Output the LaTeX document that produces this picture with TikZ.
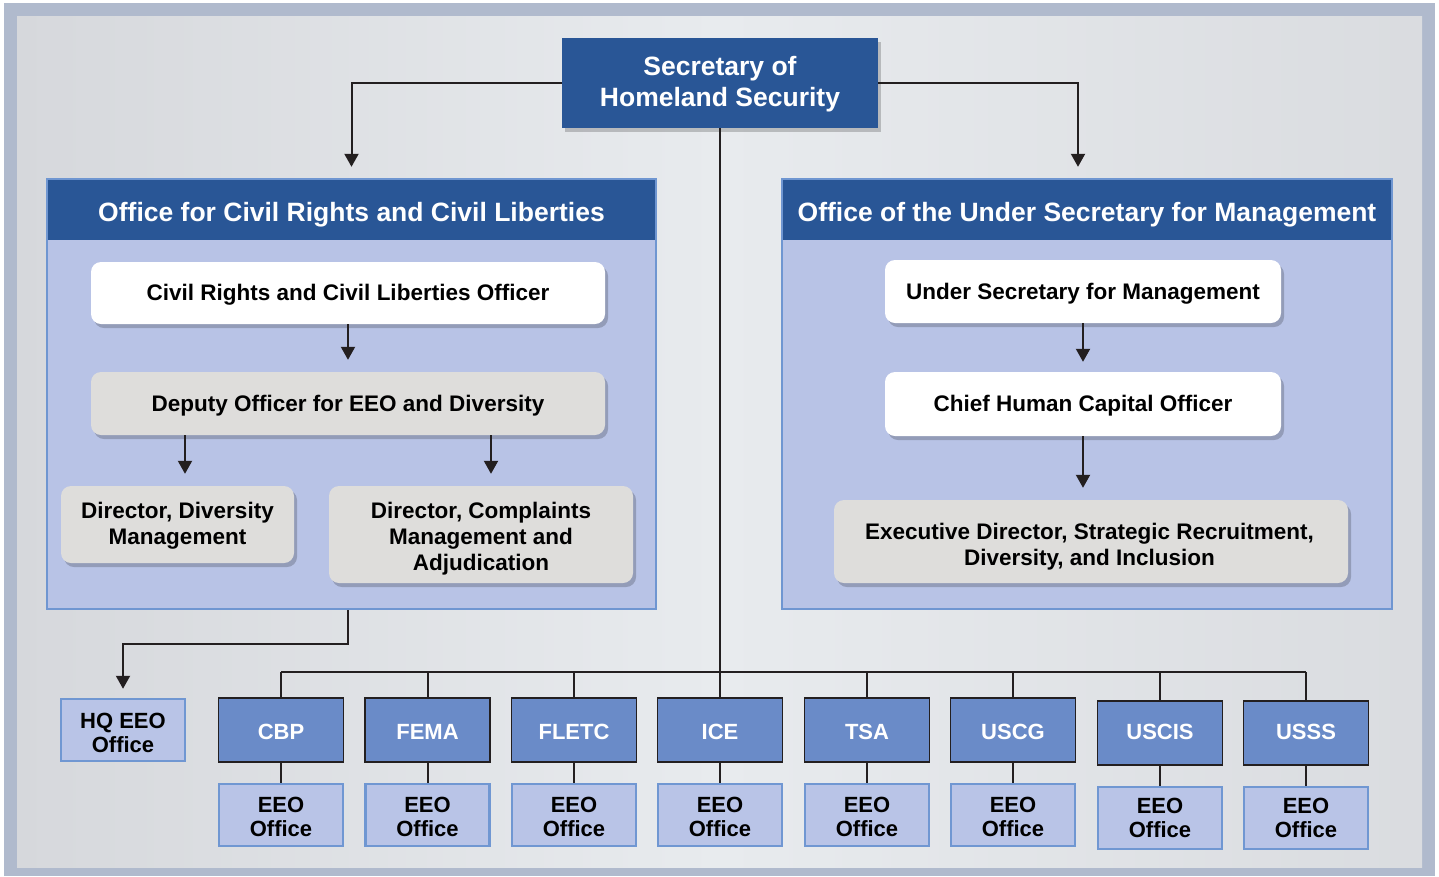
\documentclass[tikz,border=0pt]{standalone}
\usepackage{fontspec}
\setmainfont{Liberation Sans}
\usetikzlibrary{arrows.meta,shadows,calc}
\definecolor{hdrblue}{RGB}{41,86,150}
\definecolor{panelfill}{RGB}{184,195,230}
\definecolor{panelline}{RGB}{111,150,209}
\definecolor{agencyfill}{RGB}{106,139,200}
\definecolor{eeofill}{RGB}{185,196,231}
\definecolor{eeoline}{RGB}{112,151,210}
\definecolor{boxgray}{RGB}{222,221,219}
\definecolor{framecol}{RGB}{176,186,205}
\definecolor{bgA}{RGB}{214,216,220}
\definecolor{bgB}{RGB}{232,235,238}
\definecolor{linecol}{RGB}{35,31,32}
\newcommand\hdrfont{\fontsize{26.5}{31}\selectfont\bfseries}
\newcommand\boxfont{\fontsize{22.5}{26}\selectfont\bfseries}
\newcommand\agfont{\fontsize{22}{24}\selectfont\bfseries}
% lower the text by #1 inside its node, keeping the box size
\newcommand\mytxt[2]{\raisebox{-#1}[\height][\depth]{\begin{tabular}{@{}c@{}}#2\end{tabular}}}
\tikzset{
  hdr/.style={fill=hdrblue, text=white, font=\hdrfont, inner sep=0pt, align=center},
  panelbody/.style={fill=panelfill, draw=panelline, line width=2pt, inner sep=0pt},
  shad/.style={drop shadow={shadow xshift=3pt, shadow yshift=-4pt, opacity=0.2, fill=black}},
  whitebox/.style={rounded corners=10pt, fill=white, font=\boxfont, align=center, inner sep=0pt, shad},
  graybox/.style={rounded corners=10pt, fill=boxgray, font=\boxfont, align=center, inner sep=0pt, shad},
  agency/.style={fill=agencyfill, draw=linecol, line width=1.2pt, text=white, font=\agfont,
    minimum width=125pt, minimum height=64pt, inner sep=0pt},
  eeo/.style={fill=eeofill, draw=eeoline, line width=2.5pt, font=\agfont, align=center,
    minimum width=124pt, minimum height=62pt, inner sep=0pt},
  conn/.style={line width=2pt, draw=linecol},
  arr/.style={conn, -{Triangle[length=13pt,width=14pt]}}
}
\begin{document}
\begin{tikzpicture}[x=1pt,y=-1pt]
\useasboundingbox (0,0) rectangle (1439,876);
\fill[white] (0,0) rectangle (1439,876);
\fill[framecol] (4,3) rectangle (1435,876);
\shade[left color=bgA, right color=bgA!80!bgB, middle color=bgB] (17,16) rectangle (1422,867);

% Secretary
\node[hdr, minimum width=316pt, minimum height=90pt, shad] (sec) at (720,83) {\mytxt{1.5pt}{Secretary of\\Homeland Security}};

% Left panel
\node[panelbody, minimum width=609pt, minimum height=430pt] (crcl) at (351.5,394) {};
\node[hdr, minimum width=607pt, minimum height=60pt] (crclhead) at (351.5,210) {\mytxt{5pt}{Office for Civil Rights and Civil Liberties}};
\node[whitebox, minimum width=514pt, minimum height=62pt] (crclo) at (348,293) {\mytxt{2pt}{Civil Rights and Civil Liberties Officer}};
\node[graybox, minimum width=514pt, minimum height=63pt] (deputy) at (348,403.5) {\mytxt{3pt}{Deputy Officer for EEO and Diversity}};
\node[graybox, minimum width=233pt, minimum height=77pt] (dirdiv) at (177.5,524.5) {\mytxt{2pt}{Director, Diversity\\Management}};
\node[graybox, minimum width=304pt, minimum height=97pt] (dircomp) at (481,534.5) {\mytxt{5pt}{Director, Complaints\\Management and\\Adjudication}};

% Right panel
\node[panelbody, minimum width=610pt, minimum height=430pt] (usm) at (1087,394) {};
\node[hdr, minimum width=608pt, minimum height=60pt] (usmhead) at (1087,210) {\mytxt{5pt}{Office of the Under Secretary for Management}};
\node[whitebox, minimum width=396pt, minimum height=63pt] (usmo) at (1083,291.5) {\mytxt{3pt}{Under Secretary for Management}};
\node[whitebox, minimum width=396pt, minimum height=64pt] (chco) at (1083,404) {\mytxt{2pt}{Chief Human Capital Officer}};
\node[graybox, minimum width=514pt, minimum height=83pt] (exec) at (1091,541.5) {\hspace*{-3pt}\mytxt{6pt}{Executive Director, Strategic Recruitment,\\Diversity, and Inclusion}};

% Top connectors
\draw[arr, shorten >=13pt] (sec.west) -| (crclhead.north);
\draw[arr, shorten >=13pt] (sec.east) -| ([xshift=-9pt]usmhead.north);

% Inner arrows
\draw[arr, shorten >=12pt] (crclo.south) -- (deputy.north);
\draw[arr, shorten >=12pt] ([xshift=-163pt]deputy.south) -- ([xshift=-163pt]deputy.south |- dirdiv.north);
\draw[arr, shorten >=12pt] ([xshift=143pt]deputy.south) -- ([xshift=143pt]deputy.south |- dircomp.north);
\draw[arr, shorten >=10pt] (usmo.south) -- (chco.north);
\draw[arr, shorten >=12pt] (chco.south) -- (chco.south |- exec.north);

% HQ EEO
\node[eeo] (hq) at (123,730) {\mytxt{6pt}{HQ EEO\\Office}};
\draw[arr, shorten >=9pt] ([xshift=-3.5pt]crcl.south) -- ++(0,34) -| (hq.north);

% Agencies
\coordinate (bus) at (720,672);
\foreach \n/\t/\x/\y/\s/\e in {cbp/CBP/281/730/5pt/5pt, fema/FEMA/427.5/730/5pt/5pt,
    fletc/FLETC/574/730/5pt/5pt, ice/ICE/720/730/5pt/5pt, tsa/TSA/867/730/5pt/5pt,
    uscg/USCG/1013/730/5pt/5pt, uscis/USCIS/1160/733/2pt/2.5pt, usss/USSS/1306/733/2pt/2.5pt}{
  \node[agency] (\n) at (\x,\y) {\mytxt{\s}{\t}};
  \node[eeo] (\n-eeo) at (\x,\y+85) {\mytxt{\e}{EEO\\Office}};
  \draw[conn] (\n.north) -- (\n.north |- bus);
  \draw[conn] (\n.south) -- (\n-eeo.north);
}
\draw[conn] (cbp.north |- bus) -- (usss.north |- bus);
\draw[conn] (sec.south) -- (ice.north);
\end{tikzpicture}
\end{document}
